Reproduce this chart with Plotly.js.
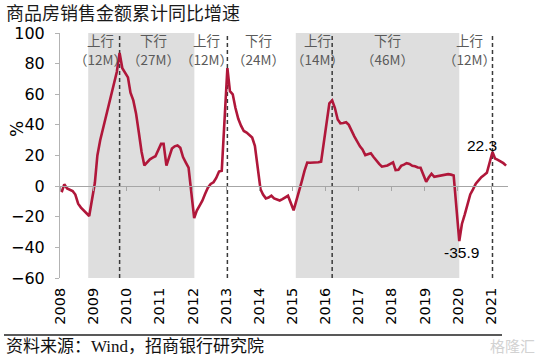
<!DOCTYPE html>
<html>
<head>
<meta charset="utf-8">
<script src="https://cdn.plot.ly/plotly-3.0.1.min.js"></script>
<style>html,body{margin:0;padding:0;background:#fff;}#chart{width:542px;height:357px;}</style>
</head>
<body>
<div id="chart"></div>
<script>
// Months reported each year (Jan is merged into Jan-Feb cumulative figure)
const months = ['02','03','04','05','06','07','08','09','10','11','12'];
const years = ['2008','2009','2010','2011','2012','2013','2014','2015','2016','2017','2018','2019','2020','2021'];

// 商品房销售金额累计同比增速 (%), Feb..Dec for each year
const v2008 = [-4.0, 1.2, -1.5, -2.5, -3.2, -5.5, -11.5, -14.0, -16.0, -18.0, -19.5];
const v2009 = [2.0, 20.0, 30.0, 37.5, 45.0, 51.0, 60.0, 68.0, 74.5, 87.0, 77.0];
const v2010 = [71.0, 61.0, 56.0, 47.5, 35.0, 22.5, 13.5, 15.5, 17.5, 18.6, 19.5];
const v2011 = [27.6, 27.6, 13.4, 19.5, 24.5, 26.0, 26.5, 25.0, 19.0, 15.4, 12.1];
const v2012 = [-20.9, -16.0, -12.7, -9.5, -5.0, -1.0, 1.4, 2.5, 5.3, 9.5, 10.0];
const v2013 = [77.1, 62.0, 60.0, 51.0, 44.0, 39.5, 36.0, 35.0, 33.5, 31.7, 26.3];
const v2014 = [-2.0, -5.5, -8.0, -7.5, -6.3, -8.0, -8.8, -9.4, -8.5, -7.3, -6.3];
const v2015 = [-15.8, -9.3, -3.3, 3.0, 10.0, 15.4, 15.3, 15.3, 15.6, 15.6, 16.0];
const v2016 = [44.0, 54.1, 56.0, 51.0, 43.5, 41.0, 41.2, 41.7, 40.0, 36.0, 32.5];
const v2017 = [26.0, 24.0, 20.3, 21.0, 21.5, 19.0, 16.5, 14.5, 12.7, 13.0, 13.5];
const v2018 = [15.5, 10.4, 10.6, 13.2, 14.0, 15.0, 14.5, 13.3, 13.0, 12.2, 12.0];
const v2019 = [2.8, 5.6, 8.1, 6.1, 6.5, 6.7, 7.0, 7.3, 7.8, 7.5, 7.0];
const v2020 = [-35.9, -24.7, -18.6, -12.3, -5.4, -2.1, 1.6, 3.7, 5.8, 7.2, 8.7];
const v2021 = [22.3, 18.0, 17.2, 16.3, 15.0, 13.4];

const seriesByYear = [v2008, v2009, v2010, v2011, v2012, v2013, v2014, v2015, v2016, v2017, v2018, v2019, v2020, v2021];

// Cycle phases
const phaseText = ['上行', '下行', '上行', '下行', '上行', '下行', '上行'];
const phaseLen = ['（12M）', '（27M）', '（12M）', '（24M）', '（14M）', '（46M）', '（12M）'];
const peakDates = ['2009-11-01', '2013-02-01', '2016-04-01', '2021-02-01'];
const downBands = [['2008-11-20', '2012-02-03'], ['2015-02-25', '2020-02-01']];
const labelPoints = [{d: '2021-02-01', v: 22.3, t: '22.3'}, {d: '2020-02-01', v: -35.9, t: '-35.9'}];

const title = '商品房销售金额累计同比增速';
const source = '资料来源：Wind，招商银行研究院';

// build x/y
const xs = [], ys = [];
seriesByYear.forEach((arr, i) => {
  arr.forEach((v, j) => { xs.push(years[i] + '-' + months[j] + '-01'); ys.push(v); });
});

// layout geometry helpers (pixel -> paper)
const L = 60, R = 34, T = 33, B = 79, W = 542, H = 357;
const pw = W - L - R, ph = H - T - B;
const px = x => (x - L) / pw;
const py = y => (H - B - y) / ph;

const phaseX = [100, 153.5, 206, 258.5, 317.5, 387, 469];

const shapes = [];
downBands.forEach(b => shapes.push({type: 'rect', xref: 'x', yref: 'paper', x0: b[0], x1: b[1], y0: 0, y1: 1,
  fillcolor: '#dedede', line: {width: 0}, layer: 'below'}));
peakDates.forEach(d => shapes.push({type: 'line', xref: 'x', yref: 'paper', x0: d, x1: d, y0: 0, y1: 1,
  line: {color: '#3a3a3a', width: 1.5, dash: '4px,3px'}, layer: 'below'}));
// source separator line
shapes.push({type: 'line', xref: 'paper', yref: 'paper', x0: px(4), x1: px(502), y0: py(335), y1: py(335),
  line: {color: '#222', width: 1.5}});

const annotations = [];
// chart title
annotations.push({xref: 'paper', yref: 'paper', x: px(4), y: py(11.5), text: title, showarrow: false,
  xanchor: 'left', yanchor: 'middle', font: {family: 'Noto Sans CJK SC', size: 18, color: '#1a1a1a'}});
phaseText.forEach((t, i) => {
  annotations.push({xref: 'paper', yref: 'paper', x: px(phaseX[i]), y: py(40), text: t, showarrow: false,
    xanchor: 'center', yanchor: 'middle', font: {family: 'Noto Sans CJK SC', size: 13.5, color: '#5a5a5a'}});
  annotations.push({xref: 'paper', yref: 'paper', x: px(phaseX[i]), y: py(59), text: phaseLen[i], showarrow: false,
    xanchor: 'center', yanchor: 'middle', font: {family: 'Noto Sans CJK SC', size: 13.5, color: '#5a5a5a'}});
});
annotations.push({xref: 'x', yref: 'y', x: labelPoints[0].d, y: labelPoints[0].v, text: labelPoints[0].t, showarrow: false,
  xanchor: 'center', yanchor: 'middle', xshift: -10, yshift: 6, font: {family: 'Liberation Sans', size: 15.5, color: '#000'}});
annotations.push({xref: 'x', yref: 'y', x: labelPoints[1].d, y: labelPoints[1].v, text: labelPoints[1].t, showarrow: false,
  xanchor: 'center', yanchor: 'middle', xshift: 2, yshift: -11, font: {family: 'Liberation Sans', size: 15.5, color: '#000'}});
annotations.push({xref: 'paper', yref: 'paper', x: px(17), y: py(129), text: '%', showarrow: false, textangle: -90,
  xanchor: 'center', yanchor: 'middle', font: {family: 'DejaVu Sans', size: 17, color: '#000'}});
annotations.push({xref: 'paper', yref: 'paper', x: px(4), y: py(346.5), text: source, showarrow: false,
  xanchor: 'left', yanchor: 'middle', font: {family: "'Liberation Serif', 'Noto Sans CJK SC'", size: 17, color: '#111'}});
annotations.push({xref: 'paper', yref: 'paper', x: px(512), y: py(345), text: '格隆汇', showarrow: false,
  xanchor: 'center', yanchor: 'middle', font: {family: 'Noto Sans CJK SC', size: 15, color: '#d2d2d2'}});

const traces = [
  {type: 'scatter', mode: 'lines', x: xs, y: ys, line: {color: '#B0173A', width: 2.6}, hoverinfo: 'skip', xaxis: 'x', yaxis: 'y'},
  {type: 'scatter', mode: 'lines', x: [xs[0], xs[xs.length - 1]], y: [null, null], hoverinfo: 'skip', xaxis: 'x2', yaxis: 'y', showlegend: false}
];

const layout = {
  width: W, height: H,
  margin: {l: L, r: R, t: T, b: B, pad: 0},
  paper_bgcolor: '#fff', plot_bgcolor: '#fff',
  showlegend: false,
  xaxis: {type: 'date', range: ['2008-01-14', '2021-07-22'], tickmode: 'linear', tick0: '2008-01-17', dtick: 'M12',
    tickformat: '%Y', tickangle: -90, ticks: '', showline: false, showgrid: false, zeroline: false,
    ticklabelstandoff: 6, tickfont: {family: 'DejaVu Sans', size: 14.5, color: '#000'}},
  xaxis2: {type: 'date', overlaying: 'x', matches: 'x', anchor: 'free', position: 0.375, side: 'bottom',
    tickmode: 'linear', tick0: '2008-01-17', dtick: 'M12', showticklabels: false, ticks: 'outside', ticklen: 4,
    tickcolor: '#a6a6a6', showline: true, linecolor: '#a6a6a6', linewidth: 1, showgrid: false, zeroline: false},
  yaxis: {range: [-60, 100], tickmode: 'linear', tick0: -60, dtick: 20, showline: true, linecolor: '#b3b3b3', linewidth: 1,
    ticks: 'outside', ticklen: 4, tickcolor: '#b3b3b3', showgrid: false, zeroline: true, zerolinecolor: '#a6a6a6', zerolinewidth: 1,
    ticklabelstandoff: 7, tickfont: {family: 'DejaVu Sans', size: 16, color: '#000'}},
  shapes: shapes,
  annotations: annotations
};

Plotly.newPlot('chart', traces, layout, {staticPlot: true, displayModeBar: false});
</script>
</body>
</html>
